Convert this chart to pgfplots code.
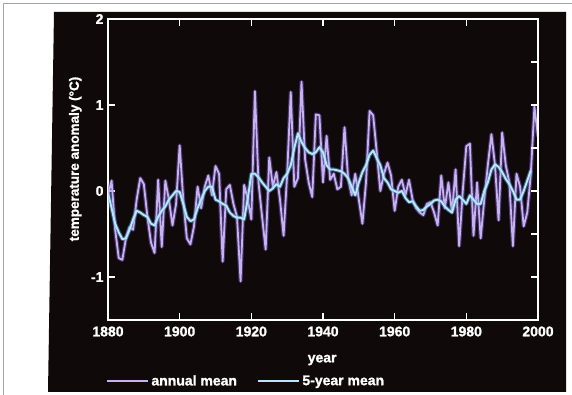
\documentclass[border=0pt]{standalone}
\usepackage{fontspec}
\setmainfont{Liberation Sans}[BoldFeatures={FakeBold=1.2}]
\usepackage{pgfplots}
\usepackage{pgfplotstable}
\pgfplotsset{compat=1.18}
\definecolor{panel}{RGB}{16,9,9}
\definecolor{annualC}{RGB}{198,178,240}
\definecolor{annualG}{RGB}{120,90,200}
\definecolor{fiveC}{RGB}{186,230,252}
\definecolor{fiveG}{RGB}{90,170,220}
\pgfplotstableread{
year val
1880 -0.05
1881 0.12
1882 -0.45
1883 -0.78
1884 -0.80
1885 -0.55
1886 -0.42
1887 -0.45
1888 -0.10
1889 0.15
1890 0.08
1891 -0.30
1892 -0.60
1893 -0.72
1894 0.13
1895 -0.65
1896 0.12
1897 -0.10
1898 -0.40
1899 -0.15
1900 0.53
1901 -0.10
1902 -0.55
1903 -0.62
1904 -0.41
1905 0.05
1906 -0.20
1907 0.05
1908 0.18
1909 -0.05
1910 0.29
1911 0.20
1912 -0.82
1913 0.02
1914 0.07
1915 -0.15
1916 -0.30
1917 -1.05
1918 0.07
1919 -0.10
1920 -0.33
1921 1.16
1922 0.10
1923 -0.30
1924 -0.68
1925 0.39
1926 0.05
1927 0.22
1928 -0.10
1929 -0.52
1930 0.20
1931 1.15
1932 0.05
1933 0.15
1934 1.27
1935 0.37
1936 0.10
1937 -0.07
1938 0.89
1939 0.88
1940 0.10
1941 0.64
1942 0.13
1943 0.20
1944 0.02
1945 0.05
1946 0.74
1947 0.15
1948 -0.05
1949 0.20
1950 -0.10
1951 -0.38
1952 0.10
1953 0.93
1954 0.88
1955 0.45
1956 0.00
1957 0.20
1958 0.33
1959 0.18
1960 -0.23
1961 0.05
1962 0.13
1963 -0.05
1964 0.13
1965 -0.10
1966 -0.20
1967 -0.25
1968 -0.28
1969 -0.15
1970 -0.13
1971 -0.25
1972 -0.40
1973 0.18
1974 -0.20
1975 0.10
1976 -0.25
1977 0.25
1978 -0.64
1979 0.00
1980 0.52
1981 0.55
1982 -0.52
1983 0.10
1984 -0.55
1985 -0.10
1986 0.30
1987 0.66
1988 0.30
1989 -0.34
1990 0.68
1991 0.30
1992 0.10
1993 -0.64
1994 0.20
1995 0.05
1996 -0.41
1997 -0.25
1998 0.20
1999 0.98
2000 0.63
}\annualtable
\pgfplotstableread{
year val
1880 -0.02
1881 -0.20
1882 -0.38
1883 -0.48
1884 -0.56
1885 -0.55
1886 -0.45
1887 -0.33
1888 -0.23
1889 -0.25
1890 -0.28
1891 -0.30
1892 -0.38
1893 -0.40
1894 -0.30
1895 -0.23
1896 -0.18
1897 -0.10
1898 -0.05
1899 0.00
1900 -0.01
1901 -0.15
1902 -0.30
1903 -0.35
1904 -0.33
1905 -0.20
1906 -0.10
1907 0.00
1908 0.05
1909 0.05
1910 -0.10
1911 -0.12
1912 -0.15
1913 -0.17
1914 -0.25
1915 -0.29
1916 -0.31
1917 -0.31
1918 -0.33
1919 -0.09
1920 0.20
1921 0.20
1922 0.16
1923 0.10
1924 0.05
1925 0.00
1926 0.03
1927 0.08
1928 0.05
1929 0.15
1930 0.20
1931 0.30
1932 0.50
1933 0.67
1934 0.57
1935 0.50
1936 0.45
1937 0.43
1938 0.45
1939 0.51
1940 0.45
1941 0.30
1942 0.25
1943 0.25
1944 0.24
1945 0.23
1946 0.20
1947 0.15
1948 0.05
1949 -0.05
1950 0.10
1951 0.22
1952 0.30
1953 0.42
1954 0.47
1955 0.38
1956 0.30
1957 0.15
1958 0.10
1959 0.02
1960 0.00
1961 -0.02
1962 0.00
1963 -0.08
1964 -0.13
1965 -0.12
1966 -0.18
1967 -0.23
1968 -0.22
1969 -0.18
1970 -0.15
1971 -0.11
1972 -0.10
1973 -0.12
1974 -0.18
1975 -0.22
1976 -0.25
1977 -0.10
1978 -0.06
1979 -0.10
1980 -0.15
1981 -0.05
1982 -0.10
1983 -0.15
1984 -0.15
1985 0.00
1986 0.10
1987 0.25
1988 0.31
1989 0.28
1990 0.22
1991 0.14
1992 0.08
1993 0.00
1994 -0.10
1995 -0.10
1996 0.00
1997 0.12
1998 0.24
}\fivetable
\begin{document}
\begin{tikzpicture}[x=1pt,y=1pt]
\useasboundingbox (0,0) rectangle (572,395);
\fill[white] (0,0) rectangle (572,395);
\draw[gray!70, line width=0.8pt] (3,0) -- (3,392) -- (572,392);
\fill[panel] (54,383) -- (566,383) -- (566,3) -- (48,3) -- cycle;
\begin{axis}[
  at={(108pt,75pt)}, anchor=south west,
  scale only axis, width=430pt, height=301pt,
  xmin=1880, xmax=2000, ymin=-1.5, ymax=2,
  axis line style={white, line width=1.8pt},
  every tick/.style={white, line width=1.5pt},
  tick align=inside, major tick length=7pt,
  xtick={1880,1900,...,2000},
  xticklabels={1880,1900,1920,1940,1960,1980,2000},
  xtick pos=both,
  ytick={-1,0,1,2}, yticklabels={-1,0,1,2},
  ytick pos=left,
  tick label style={font=\fontsize{14}{16}\selectfont\bfseries, text=white},
  xticklabel style={yshift=-3pt},
  yticklabel style={xshift=-1pt},
  xlabel={year},
  xlabel style={font=\fontsize{14}{16}\selectfont\bfseries, text=white, at={(axis description cs:0.498,-0.133)}, anchor=center},
  ylabel={temperature anomaly (°C)},
  ylabel style={font=\fontsize{13.5}{15}\selectfont\bfseries, text=white, at={(axis description cs:-0.076,0.535)}, anchor=center},
  legend columns=2,
  legend style={at={(axis description cs:-0.005,-0.203)}, anchor=west, draw=none, fill=none, text=white,
    font=\fontsize{14}{16}\selectfont\bfseries, inner sep=0pt,
    /tikz/every even column/.append style={column sep=18pt}},
  legend image code/.code={\draw[#1, line width=2.4pt] (0pt,0pt) -- (41pt,0pt);},
]
\addplot[annualG, opacity=0.5, line width=4pt, line join=round, forget plot] table[x=year,y=val] {\annualtable};
\addplot[annualC, line width=1.8pt, line join=round] table[x=year,y=val] {\annualtable};
\addlegendentry{annual mean}
\addplot[fiveG, opacity=0.5, line width=4pt, line join=round, forget plot] table[x=year,y=val] {\fivetable};
\addplot[fiveC, line width=1.9pt, line join=round] table[x=year,y=val] {\fivetable};
\addlegendentry{5-year mean}
\end{axis}
\begin{axis}[
  at={(108pt,75pt)}, anchor=south west,
  scale only axis, width=430pt, height=301pt,
  xmin=1880, xmax=2000, ymin=-1.5, ymax=2,
  hide x axis, axis y line*=right,
  axis line style={white, line width=1.8pt},
  every tick/.style={white, line width=1.5pt},
  tick align=inside, major tick length=7pt,
  ytick={-1,-0.5,...,1.5}, yticklabels={},
]
\addplot[draw=none, forget plot] coordinates {(1880,0)};
\end{axis}
\end{tikzpicture}
\end{document}
